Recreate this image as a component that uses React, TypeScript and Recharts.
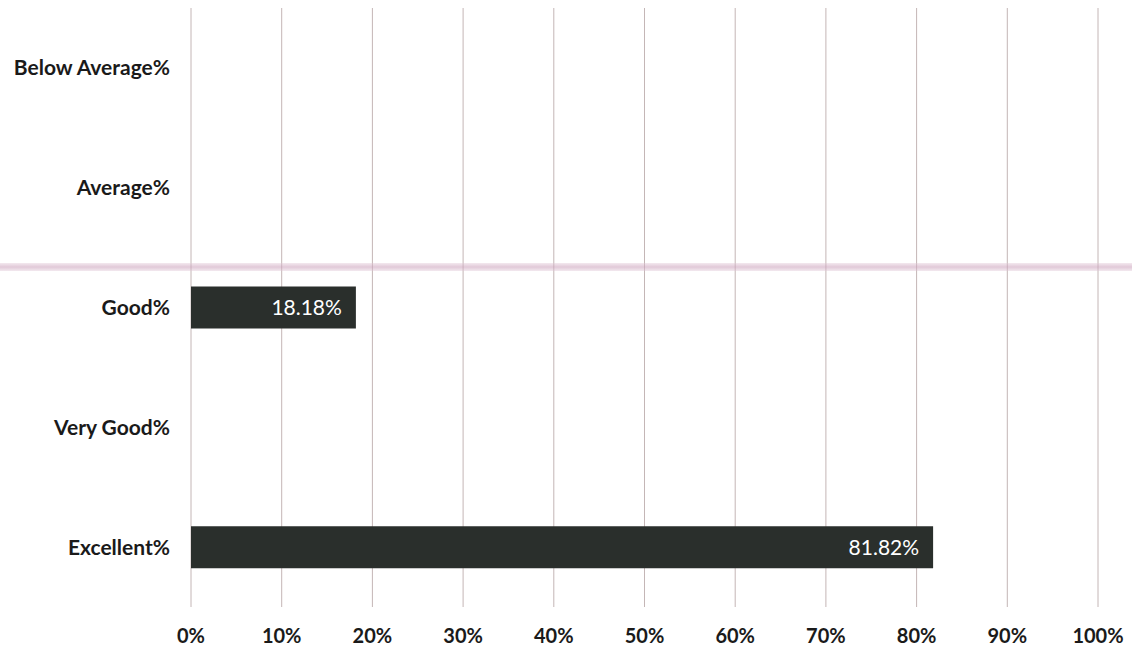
import React from "react";
import { BarChart, Bar, XAxis, YAxis, CartesianGrid, LabelList } from "recharts";

const categories = ["Below Average%", "Average%", "Good%", "Very Good%", "Excellent%"];
const percentages = [0, 0, 18.18, 0, 81.82];
const xTicks = [0, 10, 20, 30, 40, 50, 60, 70, 80, 90, 100];

const data = categories.map((name, i) => ({ name, value: percentages[i] }));

const FONT = "Lato, 'Open Sans', sans-serif";

export default function App() {
  return (
    <div style={{ position: "absolute", left: 0, top: 0, width: 1132, height: 657, background: "#ffffff", overflow: "hidden" }}>
      <BarChart
        width={1132}
        height={657}
        data={data}
        layout="vertical"
        margin={{ top: 8, right: 34, bottom: 0, left: 0 }}
      >
        <CartesianGrid horizontal={false} vertical={true} stroke="#c4b6b6" strokeWidth={1} />
        <XAxis
          type="number"
          domain={[0, 100]}
          ticks={xTicks}
          interval={0}
          tickFormatter={(v: number) => `${v}%`}
          axisLine={false}
          tickLine={false}
          tickSize={0}
          tickMargin={22}
          height={50}
          tick={{ fill: "#1a1a1a", fontSize: 20, fontWeight: 700, fontFamily: FONT }}
        />
        <YAxis
          type="category"
          dataKey="name"
          width={191}
          axisLine={false}
          tickLine={false}
          tickSize={0}
          tickMargin={21}
          tick={{ fill: "#1a1a1a", fontSize: 21, fontWeight: 700, fontFamily: FONT }}
        />
        <Bar dataKey="value" fill="#2a2f2c" barSize={42} isAnimationActive={false}>
          <LabelList
            dataKey="value"
            position="insideRight"
            offset={14}
            formatter={(v: number) => (v > 0 ? `${v.toFixed(2)}%` : "")}
            style={{ fill: "#ffffff", fontSize: 21, fontFamily: FONT, fontWeight: 400 }}
          />
        </Bar>
      </BarChart>
      <div
        style={{
          position: "absolute",
          left: 0,
          top: 263,
          width: 1132,
          height: 8,
          background: "linear-gradient(to bottom, rgba(225,200,215,0.4), rgba(205,165,190,0.6), rgba(225,200,215,0.4))",
          pointerEvents: "none",
        }}
      />
    </div>
  );
}
